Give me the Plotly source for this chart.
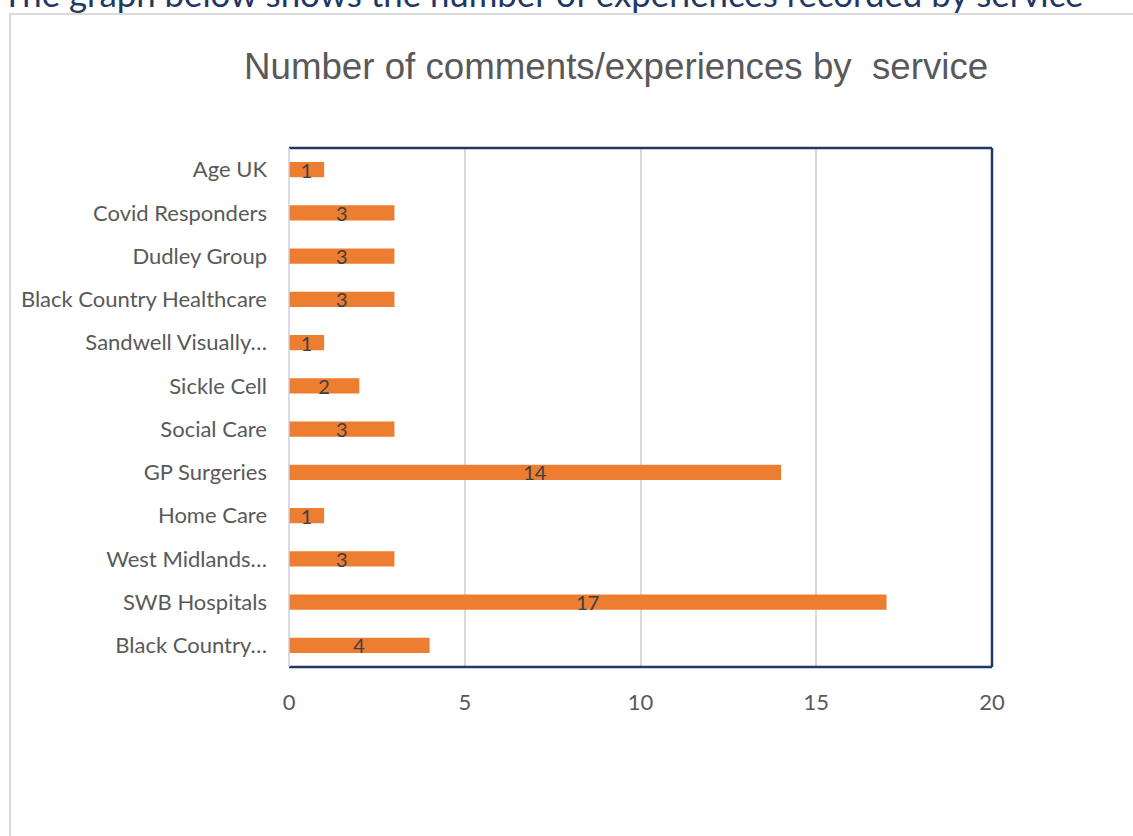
import plotly.graph_objects as go

categories = ["Age UK", "Covid Responders", "Dudley Group", "Black Country Healthcare",
              "Sandwell Visually…", "Sickle Cell", "Social Care", "GP Surgeries",
              "Home Care", "West Midlands…", "SWB Hospitals", "Black Country…"]
values = [1, 3, 3, 3, 1, 2, 3, 14, 1, 3, 17, 4]
x_ticks = [0, 5, 10, 15, 20]

title_text = "Number of comments/experiences by  service"
heading_text = "The graph below shows the number of experiences recorded by service"

W, H = 1133, 836
L, R, T, B = 289, 141, 148, 169
pw, ph = W - L - R, H - T - B

def px2x(px):
    return (px - L) / pw

def py2y(py):
    return (H - B - py) / ph

fig = go.Figure()
fig.add_trace(go.Bar(
    y=categories, x=values, orientation="h",
    marker=dict(color="#ED7D31", line=dict(width=0)),
    width=0.35,
    text=[str(v) for v in values],
    textposition="inside", insidetextanchor="middle",
    textfont=dict(family="Lato, Open Sans, sans-serif", size=20, color="#404040"),
    textangle=0,
    cliponaxis=False,
))

fig.update_layout(
    width=W, height=H,
    margin=dict(l=L, r=R, t=T, b=B, autoexpand=False),
    paper_bgcolor="white", plot_bgcolor="white",
    showlegend=False,
    uniformtext=dict(minsize=20, mode="show"),
    xaxis=dict(range=[0, 20], tickvals=x_ticks, ticktext=[str(t) for t in x_ticks],
               showgrid=True, gridcolor="#D9D9D9", gridwidth=1.5,
               zeroline=False, showline=False, ticks="",
               ticklabelstandoff=20,
               tickfont=dict(family="Lato, Open Sans, sans-serif", size=22, color="#595959"),
               fixedrange=True),
    yaxis=dict(categoryorder="array", categoryarray=categories[::-1],
               showgrid=False, zeroline=False, showline=False, ticks="",
               ticklabelstandoff=21,
               tickfont=dict(family="Lato, Open Sans, sans-serif", size=22, color="#595959"),
               fixedrange=True),
    font=dict(family="Lato, Open Sans, sans-serif"),
)

# outer frame of the embedded chart
fig.add_shape(type="rect", xref="paper", yref="paper",
              x0=px2x(10), x1=px2x(1145), y0=py2y(850), y1=py2y(14),
              line=dict(color="#D9D9D9", width=2), fillcolor="rgba(0,0,0,0)", layer="below")

# plot area border (navy on top, right, bottom)
navy = "#1F3864"
fig.add_shape(type="line", xref="paper", yref="paper", x0=0, x1=1, y0=1, y1=1,
              line=dict(color=navy, width=2.5))
fig.add_shape(type="line", xref="paper", yref="paper", x0=1, x1=1, y0=0, y1=1,
              line=dict(color=navy, width=2.5))
fig.add_shape(type="line", xref="paper", yref="paper", x0=0, x1=1, y0=0, y1=0,
              line=dict(color=navy, width=2.5))
fig.add_shape(type="line", xref="paper", yref="paper", x0=0, x1=0, y0=0, y1=1,
              line=dict(color="#C9CFDC", width=1.5))

fig.add_annotation(text=title_text, xref="paper", yref="paper",
                   x=px2x(616), y=py2y(67), xanchor="center", yanchor="middle",
                   showarrow=False,
                   font=dict(family="Liberation Sans, Arial, sans-serif", size=36.7, color="#595959"))

fig.add_annotation(text=heading_text, xref="paper", yref="paper",
                   x=px2x(0), y=py2y(-6), xanchor="left", yanchor="middle",
                   showarrow=False,
                   font=dict(family="Lato, Open Sans, sans-serif", size=34.8, color="#1F3864"))

fig.write_html("out.html")
